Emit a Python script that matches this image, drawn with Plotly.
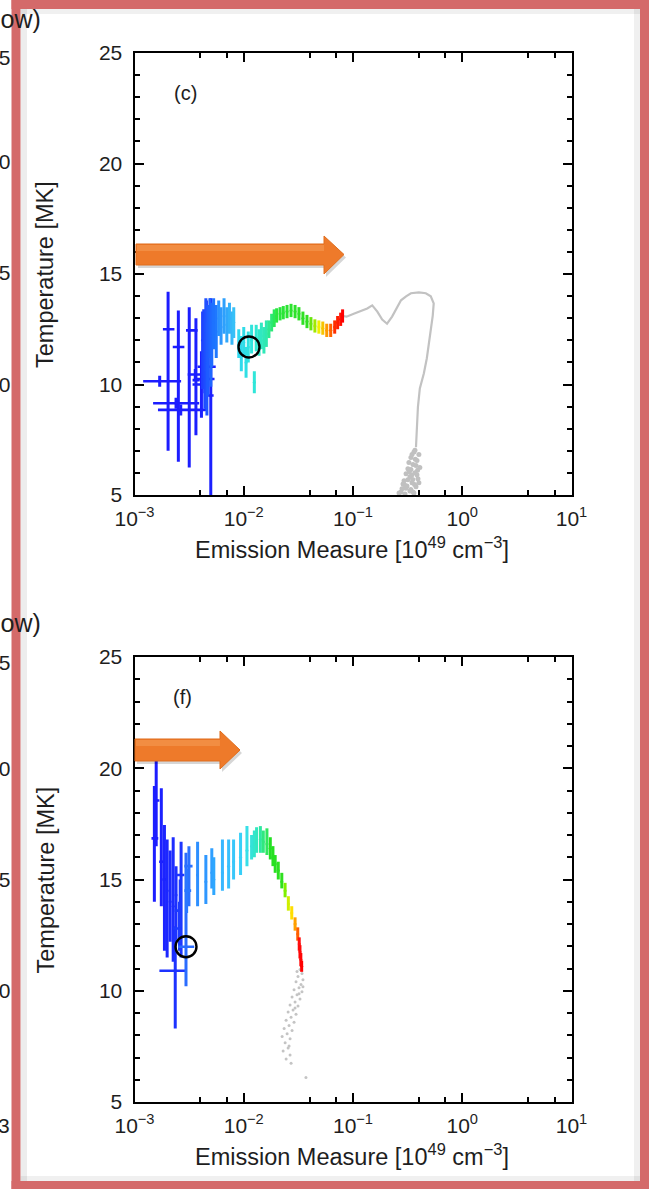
import plotly.graph_objects as go

W, H = 649, 1189

# ---------------- data ----------------
EM_TICKS = [1e-3, 1e-2, 1e-1, 1, 10]
EM_TICK_TEXT = ["10<sup>\u22123</sup>", "10<sup>\u22122</sup>", "10<sup>\u22121</sup>",
                "10<sup>0</sup>", "10<sup>1</sup>"]
EM_MINOR = [0.004, 0.007, 0.04, 0.07, 0.4, 0.7, 4, 7]
T_TICKS = [5, 10, 15, 20, 25]
T_MINOR = [6, 7, 8, 9, 11, 12, 13, 14, 16, 17, 18, 19, 21, 22, 23, 24]

# panel (c): time-ordered measurements
C_EM = [0.00203, 0.00170, 0.00252, 0.00240, 0.00317, 0.00265, 0.00365, 0.00360, 0.00410, 0.00455, 0.00499, 0.00440,
        0.0042, 0.0043, 0.0044, 0.0045, 0.0046, 0.0047, 0.0049, 0.0050, 0.0051, 0.0053, 0.0056,
        0.0059, 0.0062, 0.0066, 0.0070, 0.0074, 0.0078, 0.0081,
        0.0090, 0.0095, 0.0100, 0.0105, 0.0110, 0.0118, 0.0125, 0.0130, 0.0138, 0.0145, 0.0153, 0.0161,
        0.0170, 0.0180, 0.0190, 0.0200, 0.0215, 0.0230, 0.0249, 0.0271, 0.0295, 0.0320, 0.0348,
        0.0379, 0.0412, 0.0448, 0.0487, 0.0529, 0.0575, 0.0625, 0.0680, 0.0723, 0.0771, 0.0803]
C_T = [12.5, 10.15, 11.7, 9.15, 12.45, 8.85, 10.2, 10.45, 10.0, 10.8, 9.5, 10.25,
       12.0, 11.8, 11.2, 12.3, 11.0, 11.5, 12.6, 11.9, 12.2, 12.8, 12.4,
       13.0, 12.6, 13.1, 12.7, 13.0, 12.5, 12.8,
       11.8, 11.4, 11.9, 11.0, 11.7, 12.0, 10.1, 12.1, 11.9, 12.2, 12.0, 12.3,
       12.5, 12.8, 13.0, 13.1, 13.2, 13.25, 13.3, 13.35, 13.3, 13.2, 13.0,
       12.85, 12.75, 12.65, 12.6, 12.55, 12.45, 12.45, 12.6, 12.8, 12.95, 13.1]
C_T_LO = [7.0, 9.9, 6.5, 8.9, 6.25, 8.6, 7.7, 10.2, 8.5, 8.8, 4.0, 9.6,
          9.8, 10.3, 8.9, 10.6, 8.6, 9.5, 11.2, 9.9, 10.8, 11.6, 11.2,
          12.2, 11.8, 12.3, 11.9, 12.3, 11.8, 12.1,
          11.2, 10.6, 11.3, 10.3, 11.0, 11.4, 9.6, 11.5, 11.3, 11.6, 11.4, 11.7,
          12.1, 12.4, 12.6, 12.8, 12.9, 12.95, 13.0, 13.05, 13.0, 12.9, 12.7,
          12.55, 12.45, 12.35, 12.3, 12.25, 12.15, 12.15, 12.3, 12.5, 12.65, 12.8]
C_T_HI = [14.2, 10.4, 13.35, 9.4, 13.5, 9.1, 13.0, 10.7, 11.5, 13.8, 13.9, 11.0,
          13.3, 13.4, 13.0, 13.9, 12.8, 13.6, 13.9, 13.3, 13.7, 13.9, 13.6,
          13.8, 13.5, 13.9, 13.5, 13.7, 13.3, 13.5,
          12.5, 12.2, 12.6, 11.7, 12.4, 12.7, 10.6, 12.7, 12.5, 12.8, 12.6, 12.9,
          12.9, 13.2, 13.4, 13.45, 13.5, 13.55, 13.6, 13.65, 13.6, 13.5, 13.3,
          13.15, 13.05, 12.95, 12.9, 12.85, 12.75, 12.75, 12.9, 13.1, 13.25, 13.4]
C_EM_LO = [0.00182, 0.00120, 0.00224, 0.00148, 0.00296, 0.00164, 0.00340, 0.00307, 0.00340, 0.00378, 0.00470, 0.00370]
C_EM_HI = [0.00232, 0.00267, 0.00286, 0.00391, 0.00378, 0.00445, 0.00395, 0.00420, 0.00480, 0.00554, 0.00530, 0.00540]

C_GREY_LINE_EM = [0.0803, 0.0873, 0.103, 0.122, 0.135, 0.150, 0.167, 0.185, 0.205, 0.228, 0.253, 0.275,
                  0.306, 0.339, 0.401, 0.464, 0.515, 0.548, 0.537, 0.515, 0.494, 0.474, 0.445, 0.409,
                  0.393, 0.385, 0.377, 0.377]
C_GREY_LINE_T = [13.1, 13.07, 13.21, 13.35, 13.44, 13.58, 13.30, 12.94, 12.75, 13.07, 13.49, 13.81,
                 13.99, 14.13, 14.17, 14.13, 13.99, 13.67, 13.12, 12.43, 11.74, 11.19, 10.50, 9.82,
                 8.99, 8.30, 7.61, 7.16]
C_GREY_PTS_EM = [0.369, 0.401, 0.339, 0.385, 0.354, 0.409, 0.318, 0.369, 0.332, 0.393, 0.293, 0.347,
                 0.312, 0.377, 0.281, 0.332, 0.361, 0.299, 0.385, 0.325, 0.306, 0.275, 0.339, 0.401,
                 0.354, 0.287, 0.318, 0.264, 0.347, 0.377, 0.372, 0.361, 0.328, 0.345, 0.390, 0.305,
                 0.352, 0.296, 0.338, 0.366]
C_GREY_PTS_T = [7.02, 6.83, 6.70, 6.56, 6.38, 6.24, 6.19, 6.01, 5.83, 5.73, 5.64, 5.55,
                5.41, 5.37, 5.28, 5.18, 5.09, 5.05, 5.92, 6.47, 5.96, 5.14, 6.15, 5.55,
                5.14, 5.50, 5.69, 5.09, 6.83, 6.33, 6.62, 6.95, 6.05, 5.90, 6.12, 5.30,
                5.70, 5.46, 5.25, 5.48]
C_CIRCLE = (0.01117, 11.70)

# panel (f)
F_EM = [0.00158, 0.00152, 0.00176, 0.00188, 0.00199, 0.00212, 0.00226, 0.00240, 0.00236, 0.00267, 0.00262, 0.00258,
        0.00296, 0.00315, 0.00300,
        0.00378, 0.00450, 0.00510, 0.00532, 0.00638, 0.00727, 0.00807, 0.00935,
        0.0107, 0.0118, 0.0125, 0.0131, 0.0142, 0.0151, 0.0163, 0.0175, 0.0185, 0.0194, 0.0207,
        0.0223, 0.0239, 0.0256, 0.0275, 0.0295, 0.0312, 0.0322, 0.0327, 0.0333, 0.0339]
F_T = [18.55, 16.85, 15.8, 15.0, 14.5, 14.0, 13.8, 14.3, 10.9, 15.2, 13.6, 12.8,
       11.98, 15.6, 14.5,
       15.2, 14.9, 15.3, 15.0, 15.3, 15.6, 15.8, 16.0,
       16.3, 16.5, 16.6, 16.7, 16.8, 16.7, 16.6, 16.4, 16.0, 15.7, 15.4,
       14.9, 14.5, 13.9, 13.5, 13.0, 12.55, 12.1, 11.75, 11.4, 11.1]
F_T_LO = [16.5, 14.0, 13.8, 11.8, 11.5, 12.2, 11.3, 12.3, 8.3, 11.5, 12.0, 11.8,
          10.2, 13.8, 13.5,
          13.8, 13.9, 14.6, 14.3, 14.5, 14.6, 15.0, 15.2,
          15.6, 15.9, 16.0, 16.2, 16.2, 16.2, 16.1, 15.9, 15.6, 15.3, 15.0,
          14.6, 14.2, 13.6, 13.2, 12.7, 12.25, 11.8, 11.45, 11.1, 10.85]
F_T_HI = [20.5, 19.2, 19.1, 17.45, 16.8, 16.3, 16.9, 15.6, 12.9, 16.7, 15.0, 14.0,
          16.2, 16.5, 15.5,
          16.7, 16.1, 16.4, 16.0, 16.8, 16.8, 16.8, 17.1,
          17.4, 17.0, 17.2, 17.35, 17.4, 17.2, 17.3, 16.9, 16.5, 16.1, 15.8,
          15.3, 14.85, 14.25, 13.8, 13.3, 12.85, 12.4, 12.05, 11.7, 11.35]
F_EM_LO = [0.00150, 0.00143, 0.00168, 0.00180, None, None, None, None, 0.00169, 0.00240, 0.00233, 0.00226,
           0.00251, 0.00286, 0.00286]
F_EM_HI = [0.00169, 0.00165, 0.00186, 0.00196, None, None, None, None, 0.00296, 0.00286, 0.00267, 0.00267,
           0.00352, 0.00340, 0.00330]

F_GREY_PTS_EM = [0.03272, 0.03412, 0.03139, 0.03484, 0.03010, 0.03341, 0.03205, 0.02887, 0.03412, 0.03074,
                 0.02769, 0.03272, 0.02948, 0.02655, 0.03139, 0.02827, 0.02547, 0.03010, 0.02711, 0.02442,
                 0.02887, 0.02600, 0.02342, 0.02769, 0.02494, 0.02246, 0.02655, 0.02392, 0.02547, 0.02293,
                 0.02655, 0.02442, 0.02711, 0.03709, 0.03074, 0.03484, 0.03205, 0.02948, 0.02600]
F_GREY_PTS_T = [10.96, 10.78, 10.64, 10.50, 10.41, 10.28, 10.14, 10.05, 9.95, 9.82,
                9.72, 9.63, 9.50, 9.36, 9.31, 9.13, 9.04, 8.94, 8.81, 8.67,
                8.58, 8.44, 8.30, 8.21, 8.07, 7.94, 7.84, 7.66, 7.43, 7.29,
                7.11, 6.93, 6.74, 6.10, 10.87, 10.18, 9.86, 9.22, 7.52]
F_CIRCLE = (0.00296, 11.98)

# ---------------- style ----------------
C_STOPS = [(0.0, '#1c1cff'), (0.175, '#1c22ff'), (0.19, '#1e40ff'), (0.349, '#1e78ff'), (0.365, '#2a90ff'),
           (0.46, '#38c0f8'), (0.476, '#30d8f0'), (0.58, '#30e8d8'), (0.65, '#30e8b0'), (0.714, '#28e840'),
           (0.841, '#30e020'), (0.873, '#a0e800'), (0.889, '#f0f000'), (0.921, '#ff9800'), (0.952, '#ff3000'),
           (1.0, '#ff0000')]
F_STOPS = [(0, '#1c1cff'), (0.256, '#1e3cff'), (0.279, '#2a6cff'), (0.326, '#2a78ff'), (0.349, '#2e90ff'),
           (0.419, '#30a8ff'), (0.442, '#38b8ff'), (0.512, '#38d0f8'), (0.535, '#38e0e8'), (0.605, '#30e8c0'),
           (0.628, '#30e8a0'), (0.674, '#30e860'), (0.698, '#22e022'), (0.791, '#30e020'), (0.814, '#80f000'),
           (0.837, '#d0f000'), (0.860, '#ffe000'), (0.884, '#ffa000'), (0.907, '#ff6000'), (0.930, '#ff1010'),
           (1, '#ff0000')]

FONT = 'Liberation Sans, Arial, Helvetica, sans-serif'
TXT = '#1e1e1e'


def hex2rgb(h):
    h = h.lstrip('#')
    return tuple(int(h[i:i + 2], 16) for i in (0, 2, 4))


def cmap(stops, f):
    for (p0, c0), (p1, c1) in zip(stops[:-1], stops[1:]):
        if f <= p1:
            a = 0 if p1 == p0 else (f - p0) / (p1 - p0)
            r0, g0, b0 = hex2rgb(c0)
            r1, g1, b1 = hex2rgb(c1)
            return 'rgb(%d,%d,%d)' % (r0 + a * (r1 - r0), g0 + a * (g1 - g0), b0 + a * (b1 - b0))
    return stops[-1][1]


def px(x):
    return x / W


def py(y):
    return 1 - y / H


fig = go.Figure()


def add_series(em, t, tlo, thi, emlo, emhi, stops, xa, ya):
    n = len(em)
    for i in range(n):
        col = cmap(stops, i / (n - 1))
        ex = dict(visible=False)
        if i < len(emlo) and emlo[i] is not None:
            ex = dict(type='data', symmetric=False, array=[emhi[i] - em[i]], arrayminus=[em[i] - emlo[i]],
                      color=col, thickness=2.6, width=0)
        ey = dict(type='data', symmetric=False, array=[thi[i] - t[i]], arrayminus=[t[i] - tlo[i]],
                  color=col, thickness=3, width=0)
        fig.add_trace(go.Scatter(x=[em[i]], y=[t[i]], mode='markers', marker=dict(size=3, color=col),
                                 error_x=ex, error_y=ey, xaxis=xa, yaxis=ya, showlegend=False,
                                 hoverinfo='skip'))


# panel (c)
fig.add_trace(go.Scatter(x=C_GREY_PTS_EM, y=C_GREY_PTS_T, mode='markers',
                         marker=dict(size=5, color='#c0c0c0'), xaxis='x', yaxis='y',
                         showlegend=False, hoverinfo='skip'))
fig.add_trace(go.Scatter(x=C_GREY_LINE_EM, y=C_GREY_LINE_T, mode='lines',
                         line=dict(color='#c2c2c2', width=2.2), xaxis='x', yaxis='y',
                         showlegend=False, hoverinfo='skip'))
add_series(C_EM, C_T, C_T_LO, C_T_HI, C_EM_LO, C_EM_HI, C_STOPS, 'x', 'y')
fig.add_trace(go.Scatter(x=[C_CIRCLE[0]], y=[C_CIRCLE[1]], mode='markers',
                         marker=dict(symbol='circle-open', size=21, color='black', line=dict(width=2.4)),
                         xaxis='x', yaxis='y', showlegend=False, hoverinfo='skip'))

# panel (f)
fig.add_trace(go.Scatter(x=F_GREY_PTS_EM, y=F_GREY_PTS_T, mode='markers',
                         marker=dict(size=3, color='#c4c4c4'), xaxis='x2', yaxis='y2',
                         showlegend=False, hoverinfo='skip'))
add_series(F_EM, F_T, F_T_LO, F_T_HI, F_EM_LO, F_EM_HI, F_STOPS, 'x2', 'y2')
fig.add_trace(go.Scatter(x=[F_CIRCLE[0]], y=[F_CIRCLE[1]], mode='markers',
                         marker=dict(symbol='circle-open', size=21, color='black', line=dict(width=2.4)),
                         xaxis='x2', yaxis='y2', showlegend=False, hoverinfo='skip'))

XD = [px(134.5), px(571.5)]
YD_C = [py(495), py(53)]
YD_F = [py(1102), py(657)]

common = dict(showline=True, linecolor='black', linewidth=2, mirror='allticks', ticks='inside',
              ticklen=9, tickwidth=2, tickcolor='black', showgrid=False, zeroline=False,
              tickfont=dict(family=FONT, size=21, color=TXT))


def xax(anchor):
    d = dict(common)
    d.update(type='log', range=[-3, 1], domain=XD, anchor=anchor, tickvals=EM_TICKS, ticktext=EM_TICK_TEXT,
             ticklabelstandoff=4,
             minor=dict(tickvals=EM_MINOR, ticks='inside', ticklen=5, tickwidth=2, tickcolor='black'))
    return d


def yax(anchor, dom):
    d = dict(common)
    d.update(range=[5, 25], domain=dom, anchor=anchor, tickvals=T_TICKS, ticklabelstandoff=6,
             minor=dict(tickvals=T_MINOR, ticks='inside', ticklen=5, tickwidth=2, tickcolor='black'))
    return d


annotations = []


def ann(text, x, y, size=20, xanchor='center', angle=0):
    annotations.append(dict(text=text, x=px(x), y=py(y), xref='paper', yref='paper', showarrow=False,
                            xanchor=xanchor, yanchor='middle', textangle=angle,
                            font=dict(family=FONT, size=size, color=TXT)))


XTITLE = "Emission Measure [10<sup>49</sup> cm<sup>\u22123</sup>]"
for (top, bot, lab, labx, laby) in [(53, 495, '(c)', 185, 93), (657, 1102, '(f)', 183, 697)]:
    ann(XTITLE, 352, bot + 53, size=23.5)
    ann("Temperature [MK]", 45, (top + bot) / 2, size=23.5, angle=-90)
    ann(lab, labx, laby, size=20)

# fragments of the neighbouring slide content on the left
for (txt, y) in [("low)", 19), ("25", 57), ("20", 162), ("15", 272), ("10", 385),
                 ("low)", 623), ("25", 662), ("20", 768), ("15", 880), ("10", 990), ("3", 1125)]:
    ann(txt, 11.5 if txt != "low)" else 43, y, size=21 if txt != "low)" else 25, xanchor='right')

shapes = []


def path(pts):
    s = 'M ' + ' L '.join('%.5f,%.5f' % (px(x), py(y)) for x, y in pts) + ' Z'
    return s


for (x0, xb, xt, yt, yb, ht, hb, tip_y) in [(136, 324, 344, 244, 265, 236, 274, 254.5),
                                           (135, 220, 240, 739, 761, 731, 769, 750)]:
    pts = [(x0, yt), (xb, yt), (xb, ht), (xt, tip_y), (xb, hb), (xb, yb), (x0, yb)]
    sh = [(x + 2, y + 3) for x, y in pts]
    shapes.append(dict(type='path', path=path(sh), xref='paper', yref='paper',
                       fillcolor='rgba(0,0,0,0.16)', line=dict(width=0), layer='above'))
    shapes.append(dict(type='path', path=path(pts), xref='paper', yref='paper',
                       fillcolor='#ee7a2a', line=dict(color='#e06e1e', width=1), layer='above'))
    hl = [(x0 + 1, yt + 1), (xb, yt + 1), (xb, yt + 7), (x0 + 1, yt + 7)]
    shapes.append(dict(type='path', path=path(hl), xref='paper', yref='paper',
                       fillcolor='rgba(255,200,140,0.25)', line=dict(width=0), layer='above'))

# slide frame
RED = '#d46a6a'
for (a, b, c, d, col) in [(20.5, 9, 27, 1181, 'rgba(0,0,0,0.07)'),
                          (20.5, 9, 640, 14, 'rgba(0,0,0,0.06)'),
                          (634, 9, 640, 1181, 'rgba(0,0,0,0.06)'),
                          (20.5, 1176, 640, 1181, 'rgba(0,0,0,0.06)'),
                          (11.5, 0, 20.5, H, RED), (11.5, 0, W, 9, RED),
                          (640, 0, W, H, RED), (11.5, 1181, W, H, RED)]:
    shapes.append(dict(type='rect', x0=px(a), x1=px(c), y0=py(b), y1=py(d), xref='paper', yref='paper',
                       fillcolor=col, line=dict(width=0), layer='above'))

fig.update_layout(
    width=W, height=H, autosize=False,
    margin=dict(l=0, r=0, t=0, b=0, pad=0, autoexpand=False),
    paper_bgcolor='white', plot_bgcolor='white',
    xaxis=xax('y'), yaxis=yax('x', YD_C),
    xaxis2=xax('y2'), yaxis2=yax('x2', YD_F),
    annotations=annotations, shapes=shapes,
    showlegend=False,
)

fig.write_html("out.html", config={'displayModeBar': False},
               post_script="document.body.style.margin='0px';document.body.style.overflow='hidden';")
